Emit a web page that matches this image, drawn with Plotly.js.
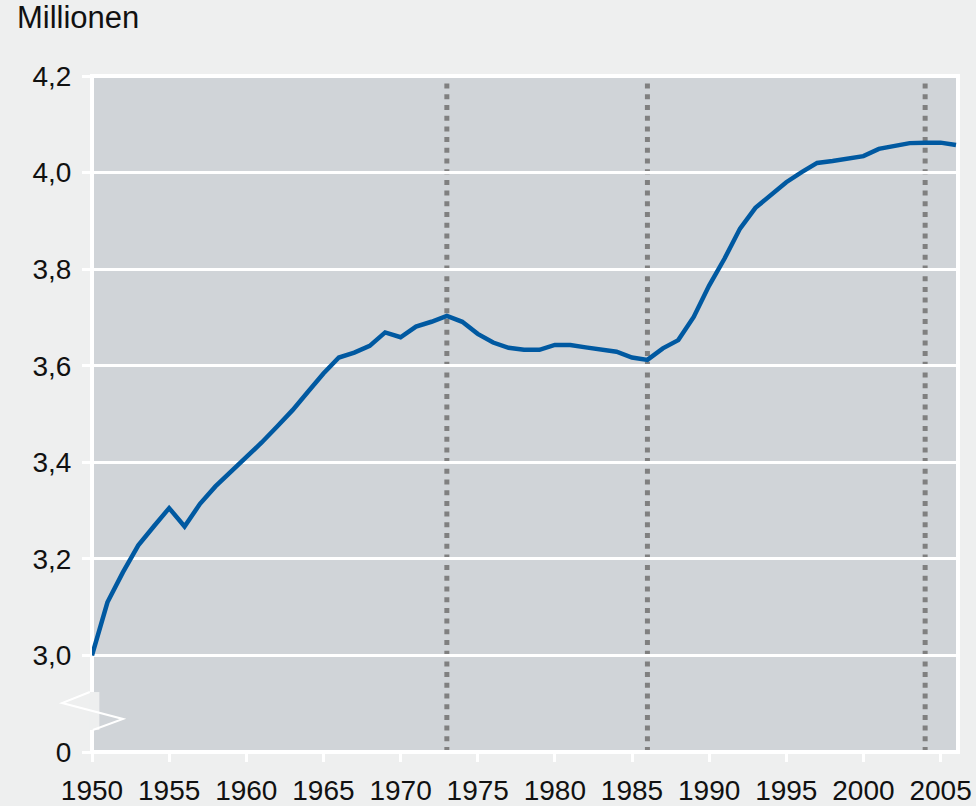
<!DOCTYPE html>
<html>
<head>
<meta charset="utf-8">
<script src="https://cdn.plot.ly/plotly-3.0.1.min.js"></script>
<style>html,body{margin:0;padding:0;background:#eeefef;}#chart{width:976px;height:806px;}</style>
</head>
<body>
<div id="chart"></div>
<script>
const years = [1950,1951,1952,1953,1954,1955,1956,1957,1958,1959,1960,1961,1962,1963,1964,1965,1966,1967,1968,1969,1970,1971,1972,1973,1974,1975,1976,1977,1978,1979,1980,1981,1982,1983,1984,1985,1986,1987,1988,1989,1990,1991,1992,1993,1994,1995,1996,1997,1998,1999,2000,2001,2002,2003,2004,2005,2006];
const millions = [3.00,3.11,3.172,3.228,3.267,3.305,3.267,3.314,3.35,3.38,3.41,3.441,3.474,3.508,3.546,3.584,3.617,3.627,3.641,3.669,3.659,3.681,3.691,3.703,3.691,3.666,3.648,3.637,3.633,3.633,3.643,3.643,3.638,3.634,3.629,3.617,3.612,3.636,3.653,3.701,3.766,3.822,3.884,3.927,3.955,3.980,4.001,4.020,4.024,4.029,4.034,4.049,4.056,4.061,4.062,4.062,4.057];
const markerYears = [1973,1986,2004];
const yTickVals = [2.8,3.0,3.2,3.4,3.6,3.8,4.0,4.2];
const yTickText = ['0','3,0','3,2','3,4','3,6','3,8','4,0','4,2'];
const xTickVals = [1950,1955,1960,1965,1970,1975,1980,1985,1990,1995,2000,2005];

const bg = '#eeefef';
const shapes = markerYears.map(yr => ({
  type:'line', xref:'x', yref:'paper', x0:yr, x1:yr, y0:0, y1:1,
  line:{color:'#808080', width:5, dash:'5px,5.7px'}, layer:'below'
}));
// white frame around plot area
shapes.push({type:'rect', xref:'paper', yref:'paper', x0:0, x1:1, y0:0, y1:1,
  line:{color:'#ffffff', width:4}, fillcolor:'rgba(0,0,0,0)', layer:'below'});
// axis break
shapes.push({type:'rect', xref:'paper', yref:'paper', x0:-0.0025, x1:0.0085, y0:0.0325, y1:0.0887,
  line:{width:0}, fillcolor:bg, layer:'above'});
shapes.push({type:'path', xref:'paper', yref:'paper',
  path:'M -0.0025 0.0887 L -0.0345 0.0725 L 0.0358 0.0488 L 0.0010 0.0325',
  line:{color:'#ffffff', width:2}, layer:'above'});

const data = [{
  x: years, y: millions, type:'scatter', mode:'lines',
  line:{color:'#0059a1', width:4.5}, hoverinfo:'skip'
}];

const layout = {
  width:976, height:806,
  margin:{l:92, r:18, t:76, b:54, pad:0},
  paper_bgcolor:bg, plot_bgcolor:'#d0d4d8',
  font:{family:'"Liberation Sans", Arial, sans-serif', size:28, color:'#111111'},
  showlegend:false,
  title:{text:'Millionen', x:17/976, xref:'container', xanchor:'left', y:0.992, yref:'container', yanchor:'top',
    font:{size:31, color:'#111111'}},
  xaxis:{range:[1950,2006.13], tickvals:xTickVals, ticks:'outside', ticklen:9, tickwidth:3, tickcolor:'#ffffff',
    ticklabelstandoff:4,
    showgrid:false, zeroline:false, showline:false, fixedrange:true},
  yaxis:{range:[2.8,4.2], tickvals:yTickVals, ticktext:yTickText, ticks:'outside', ticklen:9, tickwidth:3, tickcolor:'#ffffff',
    ticklabelstandoff:5,
    showgrid:true, gridcolor:'#ffffff', gridwidth:3, zeroline:false, showline:false, fixedrange:true},
  shapes: shapes
};
Plotly.newPlot('chart', data, layout, {staticPlot:true, displayModeBar:false});
</script>
</body>
</html>
